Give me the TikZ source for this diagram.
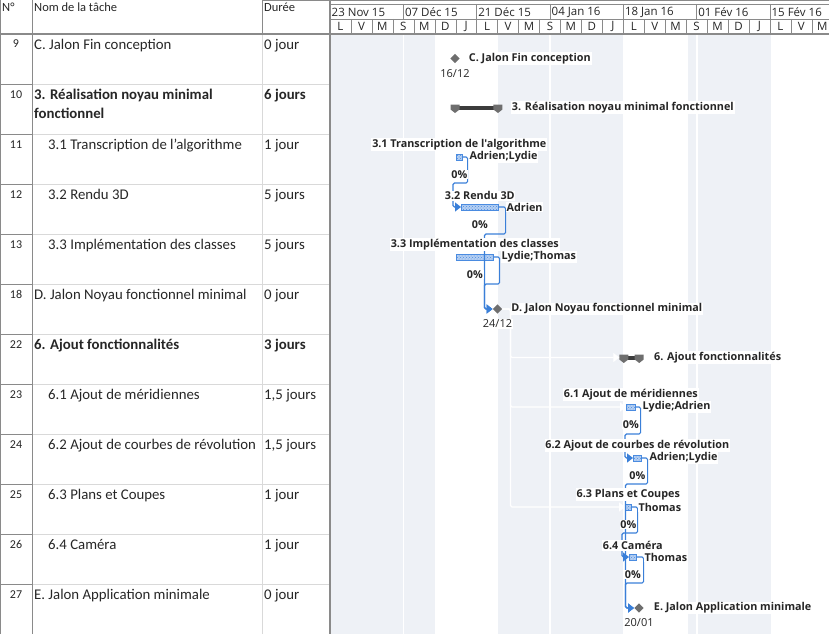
\documentclass[tikz,border=0pt]{standalone}
\usepackage{fontspec}
\setmainfont{Carlito}
\newfontfamily\chartfont{Open Sans}
\usepackage{tikz}
\usetikzlibrary{shapes.geometric, arrows.meta, patterns}
\usetikzlibrary{positioning, calc}

\definecolor{textgray}{HTML}{262626}
\definecolor{gridlight}{HTML}{D9D9D9}
\definecolor{griddark}{HTML}{8A8A8A}
\definecolor{chartshade}{HTML}{EEF1F6}
\definecolor{linkblue}{HTML}{3A7FD8}
\definecolor{barblue}{HTML}{4A8BE0}
\definecolor{barlight}{HTML}{B5CFF2}
\definecolor{msgray}{HTML}{6E6E6E}
\definecolor{sumdark}{HTML}{3C3C3C}

\tikzstyle{cell} = [anchor=base west, inner sep=0pt, text=textgray, font=\fontsize{14.8}{19}\selectfont]
\tikzstyle{boldcell} = [cell, font=\bfseries\fontsize{14.8}{19}\selectfont]
\tikzstyle{num} = [anchor=base, inner sep=0pt, text=textgray, font=\fontsize{12}{13}\selectfont]
\tikzstyle{head} = [anchor=base west, inner sep=0pt, text=textgray, font=\fontsize{12.5}{13}\selectfont]
\tikzstyle{tier} = [inner sep=0pt, text=textgray, font=\chartfont\fontsize{11.5}{12}\selectfont]
\tikzstyle{tag} = [fill=white, inner sep=0.8pt, text=textgray, font=\chartfont\bfseries\fontsize{10.8}{12}\selectfont]
\tikzstyle{datetag} = [fill=white, inner sep=0.8pt, text=textgray, font=\chartfont\fontsize{11}{12}\selectfont]
\tikzstyle{task} = [rectangle, anchor=west, minimum height=6pt, inner sep=0pt, draw=barblue, line width=0.6pt, fill=barlight, postaction={pattern=crosshatch dots, pattern color=barblue}]
\tikzstyle{milestone} = [diamond, fill=msgray, minimum size=9.5pt, inner sep=0pt]
\tikzstyle{summary} = [rectangle, minimum height=4pt, inner sep=0pt, fill=sumdark]
\tikzstyle{link} = [draw=linkblue, line width=1.2pt, rounded corners=1.5pt, -{Triangle[length=6pt,width=9pt]}]
\tikzstyle{whitelink} = [draw=white, line width=1.2pt, rounded corners=1.5pt, -{Triangle[length=6pt,width=9pt]}]

\newcommand{\sumcap}[1]{\fill[msgray] ($(#1)+(-4.5,-3)$) -- ++(9,0) -- ++(0,5) -- ++(-4.5,3.5) -- ++(-4.5,-3.5) -- cycle;}

\begin{document}
\begin{tikzpicture}[x=1pt, y=-1pt]
        \useasboundingbox (0,0) rectangle (829,634);

        % fond du diagramme
        \fill[chartshade] (330,34) rectangle (435,634);
        \fill[chartshade] (498,34) rectangle (623,634);
        \fill[chartshade] (688,34) rectangle (771,634);
        \foreach \x in {403.3, 550, 697}
            \draw[white, line width=1.2pt] (\x,34) -- (\x,634);

        % grille du tableau
        \foreach \y in {84,134,...,584} {
            \draw[griddark] (0,\y) -- (32,\y);
            \draw[gridlight] (32,\y) -- (330,\y);
        }
        \draw[gridlight] (262,34) -- (262,634);
        \draw[griddark] (262,0.7) -- (829,0.7);
        \draw[griddark] (262,0) -- (262,34);
        \draw[griddark] (330,4) -- (829,4);
        \draw[griddark] (330,19) -- (829,19);
        \draw[griddark, line width=1.2pt] (0,34) -- (829,34);
        \draw[griddark, line width=1.2pt] (0.6,0) -- (0.6,634);
        \draw[griddark, line width=1pt] (32,0) -- (32,634);
        \draw[griddark, line width=1.5pt] (330,0) -- (330,634);

        % echelle de temps
        \foreach \date [count=\i] in {23 Nov 15, 07 Déc 15, 21 Déc 15, 04 Jan 16, 18 Jan 16, 01 Fév 16, 15 Fév 16} {
            \draw[griddark] ({330+73.325*(\i-1)},4) -- ({330+73.325*(\i-1)},19);
            \node[tier, anchor=west] (date\i) at ({331.5+73.325*(\i-1)},12) {\date};
        }
        \foreach \day [count=\i] in {L,V,M,S,M,D,J,L,V,M,S,M,D,J,L,V,M,S,M,D,J,L,V,M} {
            \draw[griddark] ({330+20.95*\i},19) -- ({330+20.95*\i},34);
            \node[tier] (day\i) at ({330+20.95*(\i-0.5)},26.5) {\day};
        }

        % en-tete du tableau
        \node[head] (hNum) at (2,12) {N°};
        \node[head] (hNom) at (34,12) {Nom de la tâche};
        \node[head] (hDuree) at (264,12) {Durée};

        % lignes du tableau
        \node[num] (n9) at (16,48) {9};
        \node[cell] (jalonC) at (34,49) {C. Jalon Fin conception};
        \node[cell] (dJalonC) at (264,49) {0 jour};
        \node[num] (n10) at (16,98) {10};
        \node[boldcell, align=left] (realisation) at (34,118) {3. Réalisation noyau minimal\\fonctionnel};
        \node[boldcell] (dRealisation) at (264,99) {6 jours};
        \node[num] (n11) at (16,148) {11};
        \node[cell] (transcription) at (48,149) {3.1 Transcription de l'algorithme};
        \node[cell] (dTranscription) at (264,149) {1 jour};
        \node[num] (n12) at (16,198) {12};
        \node[cell] (rendu) at (48,199) {3.2 Rendu 3D};
        \node[cell] (dRendu) at (264,199) {5 jours};
        \node[num] (n13) at (16,248) {13};
        \node[cell] (implementation) at (48,249) {3.3 Implémentation des classes};
        \node[cell] (dImplementation) at (264,249) {5 jours};
        \node[num] (n18) at (16,298) {18};
        \node[cell] (jalonD) at (34,299) {D. Jalon Noyau fonctionnel minimal};
        \node[cell] (dJalonD) at (264,299) {0 jour};
        \node[num] (n22) at (16,348) {22};
        \node[boldcell] (ajout) at (34,349) {6. Ajout fonctionnalités};
        \node[boldcell] (dAjout) at (264,349) {3 jours};
        \node[num] (n23) at (16,398) {23};
        \node[cell] (meridiennes) at (48,399) {6.1 Ajout de méridiennes};
        \node[cell] (dMeridiennes) at (264,399) {1,5 jours};
        \node[num] (n24) at (16,448) {24};
        \node[cell] (courbes) at (48,449) {6.2 Ajout de courbes de révolution};
        \node[cell] (dCourbes) at (264,449) {1,5 jours};
        \node[num] (n25) at (16,498) {25};
        \node[cell] (plans) at (48,499) {6.3 Plans et Coupes};
        \node[cell] (dPlans) at (264,499) {1 jour};
        \node[num] (n26) at (16,548) {26};
        \node[cell] (camera) at (48,549) {6.4 Caméra};
        \node[cell] (dCamera) at (264,549) {1 jour};
        \node[num] (n27) at (16,598) {27};
        \node[cell] (jalonE) at (34,599) {E. Jalon Application minimale};
        \node[cell] (dJalonE) at (264,599) {0 jour};

        % barres
        \node[milestone] (msC) at (455,58.5) {};
        \node[summary, minimum width=42.5pt] (sumRealisation) at (476.5,107.5) {};
        \sumcap{sumRealisation.west}
        \sumcap{sumRealisation.east}
        \node[task, minimum width=6pt] (barTranscription) at (456,157) {};
        \node[task, minimum width=37pt] (barRendu) at (461,207) {};
        \node[task, minimum width=37pt] (barImplementation) at (456,257) {};
        \node[milestone] (msD) at (497.5,309) {};
        \node[summary, minimum width=15pt] (sumAjout) at (631.5,357.5) {};
        \sumcap{sumAjout.west}
        \sumcap{sumAjout.east}
        \node[task, minimum width=9pt] (barMeridiennes) at (626,407) {};
        \node[task, minimum width=8pt] (barCourbes) at (633,458) {};
        \node[task, minimum width=6pt] (barPlans) at (625,507) {};
        \node[task, minimum width=7pt] (barCamera) at (629,557) {};
        \node[milestone] (msE) at (639,608) {};

        % liaisons
        \draw[whitelink] (msD.east) -- ++(8,0) |- ([xshift=-4.5pt]sumAjout.west);
        \draw[whitelink] (msD.east) -- ++(8,0) |- (barMeridiennes.west);
        \draw[whitelink] (msD.east) -- ++(8,0) |- (barPlans.west);
        \draw[link] (barTranscription.east) -- ++(5,0) -- ++(0,26) -| ([xshift=-8pt]barRendu.west) -- (barRendu.west);
        \draw[link] (barRendu.east) -- ++(7,0) -- ++(0,27) -| ([xshift=-8pt]msD.west) -- (msD.west);
        \draw[link] (barImplementation.east) -- ++(6,0) -- ++(0,27) -| ([xshift=-8pt]msD.west) -- (msD.west);
        \draw[link] (barMeridiennes.east) -- ++(5,0) -- ++(0,27) -| ([xshift=-8pt]barCourbes.west) -- (barCourbes.west);
        \draw[link] (barCourbes.east) -- ++(6,0) -- ++(0,26) -| ([xshift=-8.5pt]msE.west) -- (msE.west);
        \draw[link] (barPlans.east) -- ++(6,0) -- ++(0,26) -| ([xshift=-7pt]barCamera.west) -- (barCamera.west);
        \draw[link] (barCamera.east) -- ++(7,0) -- ++(0,26) -| ([xshift=-8.5pt]msE.west) -- (msE.west);

        % etiquettes
        \node[tag, right=8pt of msC] (tagC) {C. Jalon Fin conception};
        \node[datetag, below=5pt of msC] (dateC) {16/12};
        \node[tag, right=13pt of sumRealisation] (tagRealisation) {3. Réalisation noyau minimal fonctionnel};
        \node[tag, above=3pt of barTranscription] (tagTranscription) {3.1 Transcription de l'algorithme};
        \node[tag, right=6pt of barTranscription] (resTranscription) {Adrien;Lydie};
        \node[tag, below=9pt of barTranscription] (pctTranscription) {0\%};
        \node[tag, above=3pt of barRendu] (tagRendu) {3.2 Rendu 3D};
        \node[tag, right=7pt of barRendu] (resRendu) {Adrien};
        \node[tag, below=9pt of barRendu] (pctRendu) {0\%};
        \node[tag, above=3pt of barImplementation] (tagImplementation) {3.3 Implémentation des classes};
        \node[tag, right=7pt of barImplementation] (resImplementation) {Lydie;Thomas};
        \node[tag, below=9pt of barImplementation] (pctImplementation) {0\%};
        \node[tag, right=8pt of msD] (tagD) {D. Jalon Noyau fonctionnel minimal};
        \node[datetag, below=5pt of msD] (dateD) {24/12};
        \node[tag, right=14pt of sumAjout] (tagAjout) {6. Ajout fonctionnalités};
        \node[tag, above=3pt of barMeridiennes] (tagMeridiennes) {6.1 Ajout de méridiennes};
        \node[tag, right=6pt of barMeridiennes] (resMeridiennes) {Lydie;Adrien};
        \node[tag, below=9pt of barMeridiennes] (pctMeridiennes) {0\%};
        \node[tag, above=3pt of barCourbes] (tagCourbes) {6.2 Ajout de courbes de révolution};
        \node[tag, right=7pt of barCourbes] (resCourbes) {Adrien;Lydie};
        \node[tag, below=9pt of barCourbes] (pctCourbes) {0\%};
        \node[tag, above=3pt of barPlans] (tagPlans) {6.3 Plans et Coupes};
        \node[tag, right=6pt of barPlans] (resPlans) {Thomas};
        \node[tag, below=9pt of barPlans] (pctPlans) {0\%};
        \node[tag, above=3pt of barCamera] (tagCamera) {6.4 Caméra};
        \node[tag, right=7pt of barCamera] (resCamera) {Thomas};
        \node[tag, below=9pt of barCamera] (pctCamera) {0\%};
        \node[tag, right=9pt of msE] (tagE) {E. Jalon Application minimale};
        \node[datetag, below=5pt of msE] (dateE) {20/01};
    \end{tikzpicture}
\end{document}
